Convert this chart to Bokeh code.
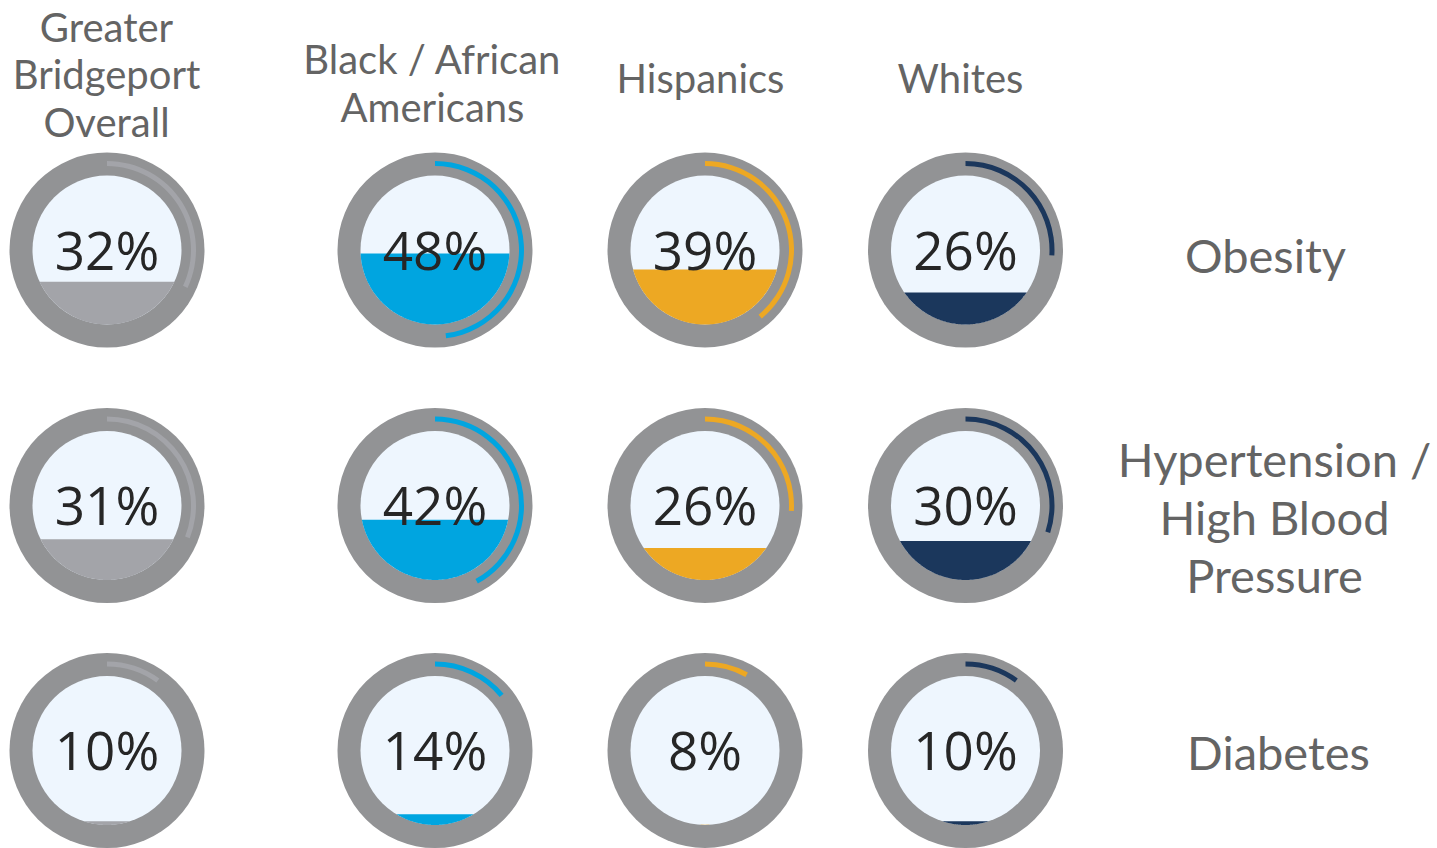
import numpy as np
from bokeh.plotting import figure
from bokeh.models import Range1d
from bokeh.core.properties import value
from bokeh.embed import file_html
from bokeh.resources import INLINE

# ---- data ----
groups = ["Greater\nBridgeport\nOverall", "Black / African\nAmericans", "Hispanics", "Whites"]
measures = ["Obesity", "Hypertension /\nHigh Blood\nPressure", "Diabetes"]
obesity = [32, 48, 39, 26]
hypertension = [31, 42, 26, 30]
diabetes = [10, 14, 8, 10]
values = [obesity, hypertension, diabetes]

# ---- styles / layout ----
group_colors = ["#a3a4a9", "#00a5e0", "#eda823", "#1b375c"]
ring_color = "#929395"
inner_color = "#eef6fe"
W, H = 1437, 848
col_x = [106.5, 434.5, 704.5, 965]
row_sy = [249.5, 505, 750]
R_OUT, R_IN = 97.5, 74.5
ARC_IN, ARC_OUT = 84, 89
R_LEVEL = 88.5

PCT_SIZE, HEAD_SIZE, LAB_SIZE = 53, 40, 47
BASE_ADJ = 0.4  # renderer baseline correction, fraction of font size

head_x = [106, 432, 700, 960]
head_last_base = [137, 122, 93, 93]
head_lh = 47.5
lab_x = [1265, 1274, 1278]
lab_last_base = [273, 593, 770]
lab_lh = 58

def Y(sy):
    return H - sy

p = figure(width=W, height=H, output_backend="svg", toolbar_location=None,
           x_range=Range1d(0, W), y_range=Range1d(0, H),
           min_border=0)
p.axis.visible = False
p.grid.visible = False
p.outline_line_color = None
p.background_fill_color = "white"
p.border_fill_color = "white"

cx, cy, col, frac, ptxt = [], [], [], [], []
for r, vals in enumerate(values):
    for c, v in enumerate(vals):
        cx.append(col_x[c]); cy.append(Y(row_sy[r])); col.append(group_colors[c])
        frac.append(v / 100.0); ptxt.append(f"{v}%")
cx = np.array(cx); cy = np.array(cy); frac = np.array(frac)

# outer ring
p.circle(cx, cy, radius=R_OUT, fill_color=ring_color, line_color=None)
# arc
start = np.pi / 2 - frac * 2 * np.pi
p.annular_wedge(cx, cy, inner_radius=ARC_IN, outer_radius=ARC_OUT,
                start_angle=start, end_angle=np.full(len(cx), np.pi / 2),
                direction="anticlock", fill_color=col, line_color=None)
# inner disc
p.circle(cx, cy, radius=R_IN, fill_color=inner_color, line_color=None)

# fill level
xs, ys, fc = [], [], []
for x0, y0, f, c in zip(cx, cy, frac, col):
    level = y0 - R_LEVEL + f * 2 * R_LEVEL
    s = (level - y0) / R_IN
    if s <= -1:
        continue
    a = np.arcsin(min(s, 1.0))
    th = np.linspace(np.pi - a, 2 * np.pi + a, 120)
    xs.append(list(x0 + R_IN * np.cos(th)))
    ys.append(list(y0 + R_IN * np.sin(th)))
    fc.append(c)
p.patches(xs, ys, fill_color=fc, line_color=None)

# percentage text
p.text(cx, cy - 20.5 + BASE_ADJ * PCT_SIZE, text=ptxt, text_font=value("Open Sans"),
       text_font_size=f"{PCT_SIZE}px",
       text_color="#262626", text_align="center", text_baseline="alphabetic")

# headers
hx, hy, ht = [], [], []
for i, g in enumerate(groups):
    lines = g.split("\n")
    n = len(lines)
    for j, ln in enumerate(lines):
        hx.append(head_x[i])
        hy.append(Y(head_last_base[i] - (n - 1 - j) * head_lh) + BASE_ADJ * HEAD_SIZE)
        ht.append(ln)
p.text(hx, hy, text=ht, text_font=value("Lato"), text_font_size=f"{HEAD_SIZE}px",
       text_color="#646464", text_align="center", text_baseline="alphabetic")

# row labels
lx, ly, lt = [], [], []
for i, m in enumerate(measures):
    lines = m.split("\n")
    n = len(lines)
    for j, ln in enumerate(lines):
        lx.append(lab_x[i])
        ly.append(Y(lab_last_base[i] - (n - 1 - j) * lab_lh) + BASE_ADJ * LAB_SIZE)
        lt.append(ln)
p.text(lx, ly, text=lt, text_font=value("Lato"), text_font_size=f"{LAB_SIZE}px",
       text_color="#646464", text_align="center", text_baseline="alphabetic")

open("out.html", "w").write(file_html(p, INLINE))
